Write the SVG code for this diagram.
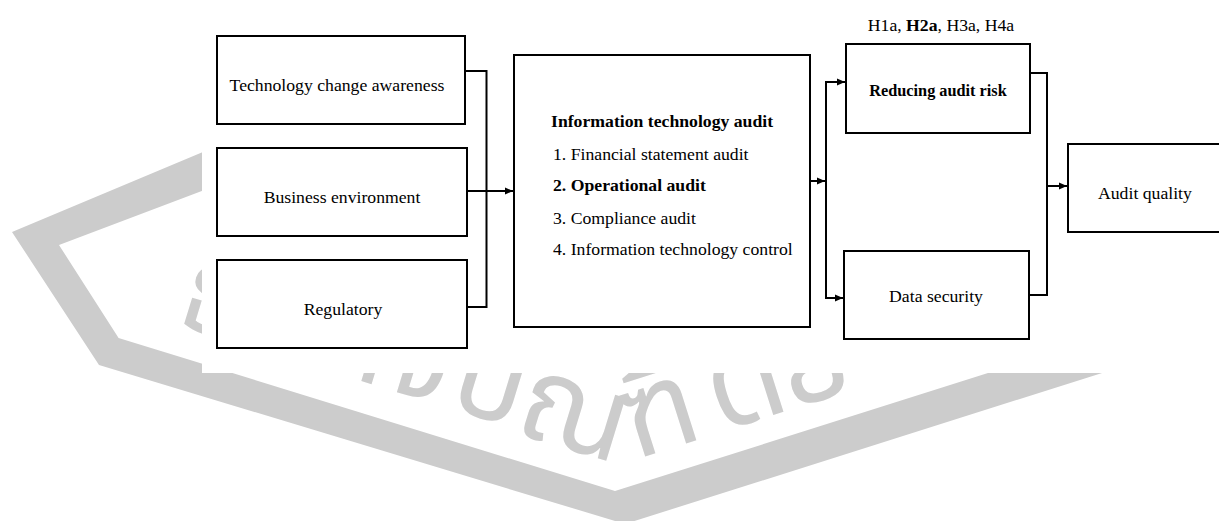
<svg xmlns="http://www.w3.org/2000/svg" width="1219" height="521" viewBox="0 0 1219 521">
  <defs>
    <style>
      .box { fill: #ffffff; stroke: #000000; stroke-width: 2; }
      .wire { fill: none; stroke: #000000; stroke-width: 2; }
      .lbl { font-size: 17.7px; fill: #000000; }
      .mid { text-anchor: middle; }
      .b { font-weight: bold; }
      .wm { fill: #cccccc; }
      .wmtext { font-size: 120px; fill: #cccccc; }
    </style>
    <marker id="arrow" markerUnits="userSpaceOnUse" markerWidth="9" markerHeight="8" refX="8" refY="4" orient="auto">
      <path d="M0,0.5 L8,4 L0,7.5 z" fill="#000000"/>
    </marker>
  </defs>

  <rect width="1219" height="521" fill="#ffffff"/>

  <!-- background watermark: shield-shaped band with lettering set along its inner edge -->
  <g id="watermark" font-family="Noto Sans Thai, Noto Sans, sans-serif">
    <polygon class="wm" points="260,128 12,232 99,365 625,524 1219,336 1219,300 615,491 118.6,338 59,245 260,169"/>
    <text class="wmtext" transform="translate(174,324) rotate(17)">ธุ</text>
    <text class="wmtext" transform="translate(250,347) rotate(17)">ร</text>
    <text class="wmtext" transform="translate(312,366) rotate(17)">กิ</text>
    <text class="wmtext" transform="translate(380,387) rotate(17)">จ</text>
    <text class="wmtext" transform="translate(446,407) rotate(17)">บั</text>
    <text class="wmtext" transform="translate(512,432) rotate(17)">ณ</text>
    <text class="wmtext" transform="translate(634,460) rotate(-17.6)">ฑิ</text>
    <text class="wmtext" transform="translate(720,432) rotate(-17.6)">ต</text>
    <text class="wmtext" transform="translate(790,410) rotate(-17.6)">ย์</text>
  </g>

  <!-- white page area of the figure -->
  <rect x="202" y="0" width="1017" height="373" fill="#ffffff"/>

  <g id="figure" font-family="'Liberation Serif', 'Times New Roman', serif">
    <g id="n-tech">
      <rect class="box" x="217" y="36" width="248" height="88"/>
      <text class="lbl mid" x="337" y="91">Technology change awareness</text>
    </g>
    <g id="n-business">
      <rect class="box" x="217" y="148" width="250" height="88"/>
      <text class="lbl mid" x="342" y="203">Business environment</text>
    </g>
    <g id="n-regulatory">
      <rect class="box" x="217" y="260" width="250" height="88"/>
      <text class="lbl mid" x="343" y="315">Regulatory</text>
    </g>
    <g id="n-itaudit">
      <rect class="box" x="514" y="55" width="296" height="272"/>
      <text class="lbl b" x="551" y="127">Information technology audit</text>
      <text class="lbl" x="553" y="160">1. Financial statement audit</text>
      <text class="lbl b" x="553" y="191">2. Operational audit</text>
      <text class="lbl" x="553" y="224">3. Compliance audit</text>
      <text class="lbl" x="553" y="255">4. Information technology control</text>
    </g>
    <g id="n-risk">
      <text class="lbl mid" x="941" y="31" font-size="18.6">H1a, <tspan class="b">H2a</tspan>, H3a, H4a</text>
      <rect class="box" x="846" y="44" width="184" height="89"/>
      <text class="lbl mid b" x="938" y="96" style="font-size:16.3px">Reducing audit risk</text>
    </g>
    <g id="n-security">
      <rect class="box" x="844" y="251" width="185" height="88"/>
      <text class="lbl mid" x="936" y="302">Data security</text>
    </g>
    <g id="n-quality">
      <rect class="box" x="1068" y="144" width="170" height="88"/>
      <text class="lbl" x="1098" y="199">Audit quality</text>
    </g>

    <g id="connectors">
      <path class="wire" d="M465,71 H486.5 V307 H467"/>
      <path class="wire" d="M467,191 H513" marker-end="url(#arrow)"/>
      <path class="wire" d="M810,181 H825" marker-end="url(#arrow)"/>
      <path class="wire" d="M826,181 V82 H845" marker-end="url(#arrow)"/>
      <path class="wire" d="M826,181 V298 H843" marker-end="url(#arrow)"/>
      <path class="wire" d="M1030,73 H1047 V295 H1029"/>
      <path class="wire" d="M1047,186 H1067" marker-end="url(#arrow)"/>
    </g>
  </g>
</svg>
